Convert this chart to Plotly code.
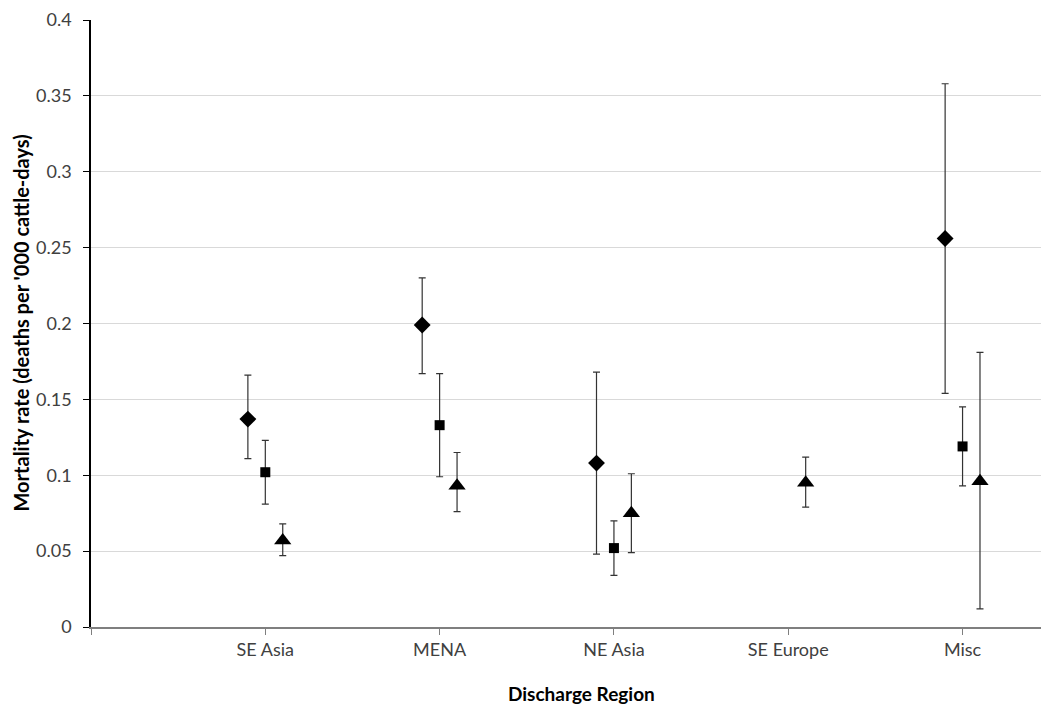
import plotly.graph_objects as go

regions = ["SE Asia", "MENA", "NE Asia", "SE Europe", "Misc"]

# Series 1 (diamonds)
s1_value = [0.137, 0.199, 0.108, None, 0.256]
s1_upper = [0.166, 0.230, 0.168, None, 0.358]
s1_lower = [0.111, 0.167, 0.048, None, 0.154]

# Series 2 (squares)
s2_value = [0.102, 0.133, 0.052, None, 0.119]
s2_upper = [0.123, 0.167, 0.070, None, 0.145]
s2_lower = [0.081, 0.099, 0.034, None, 0.093]

# Series 3 (triangles)
s3_value = [0.057, 0.093, 0.075, 0.095, 0.096]
s3_upper = [0.068, 0.115, 0.101, 0.112, 0.181]
s3_lower = [0.047, 0.076, 0.049, 0.079, 0.012]

y_ticks = [0, 0.05, 0.1, 0.15, 0.2, 0.25, 0.3, 0.35, 0.4]

FONT = "Lato"
series = [
    ("Series 1", s1_value, s1_upper, s1_lower, "diamond", 13, -0.1),
    ("Series 2", s2_value, s2_upper, s2_lower, "square", 10, 0.0),
    ("Series 3", s3_value, s3_upper, s3_lower, "triangle-up", 15, 0.1),
]

fig = go.Figure()
for name, vals, up, lo, sym, size, off in series:
    xs, ys, ep, em = [], [], [], []
    for i, v in enumerate(vals):
        if v is None:
            continue
        xs.append(i + 1 + off)
        ys.append(v)
        ep.append(up[i] - v)
        em.append(v - lo[i])
    fig.add_trace(go.Scatter(
        x=xs, y=ys, mode="markers", name=name, showlegend=False,
        marker=dict(symbol=sym, size=size, color="black"),
        error_y=dict(type="data", symmetric=False, array=ep, arrayminus=em,
                     color="#333333", thickness=1.2, width=3.5),
    ))

fig.update_layout(
    width=1044, height=706,
    margin=dict(l=91, r=3, t=20, b=79),
    paper_bgcolor="white", plot_bgcolor="white",
    font=dict(family=FONT, color="#404040", size=18),
    xaxis=dict(
        range=[0, 5.45],
        tickvals=[0, 1, 2, 3, 4, 5],
        ticktext=[""] + regions,
        showgrid=False, zeroline=False,
        showline=True, linecolor="#7f7f7f", linewidth=1.5,
        ticks="outside", ticklen=6, tickcolor="#7f7f7f",
        tickfont=dict(size=18, family=FONT, color="#404040"),
    ),
    yaxis=dict(
        range=[0, 0.4],
        tickvals=y_ticks,
        ticktext=[f"{v:g}" for v in y_ticks],
        showgrid=True, gridcolor="#d9d9d9", gridwidth=1,
        zeroline=False,
        showline=True, linecolor="black", linewidth=1.5,
        ticks="outside", ticklen=6, tickcolor="black",
        tickfont=dict(size=18, family=FONT, color="#404040"),
        ticklabelstandoff=8,
    ),
    annotations=[
        dict(text="<b>Discharge Region</b>", xref="paper", yref="paper",
             x=(581 - 91) / (1044 - 91 - 3), y=-(693 - 627) / (627 - 20),
             xanchor="center", yanchor="middle", showarrow=False,
             font=dict(size=19, family=FONT, color="black")),
        dict(text="<b>Mortality rate (deaths per '000 cattle-days)</b>",
             xref="paper", yref="paper",
             x=-(91 - 20) / (1044 - 91 - 3), y=0.5, textangle=-90,
             xanchor="center", yanchor="middle", showarrow=False,
             font=dict(size=20, family=FONT, color="black")),
    ],
)

fig.write_html("out.html")
